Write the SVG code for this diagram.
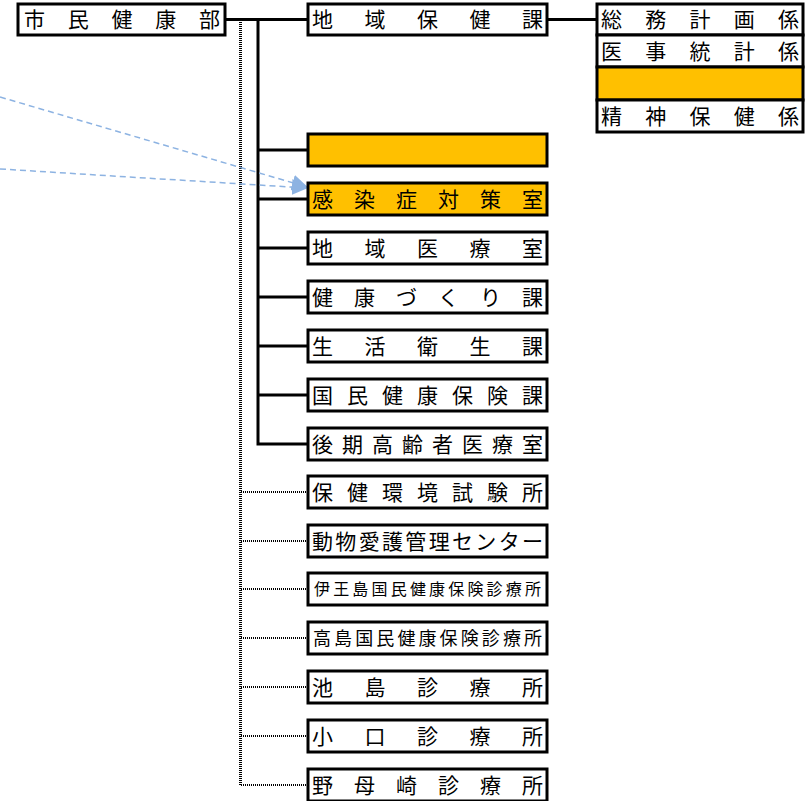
<svg xmlns="http://www.w3.org/2000/svg" width="812" height="801" viewBox="0 0 812 801">
<style>
.b{fill:#fff;stroke:#000;stroke-width:3}
.o{fill:#FFC000;stroke:#000;stroke-width:3}
.t{font-family:"Noto Sans CJK JP","Noto Sans CJK SC",sans-serif;font-size:21px;fill:#000}
.s{font-size:16px}
.m{font-size:18px}
.solid{stroke:#000;stroke-width:3;fill:none}
.dv{stroke:#000;stroke-width:3;stroke-dasharray:1 1;fill:none;shape-rendering:crispEdges}
.dh{stroke:#000;stroke-width:2;stroke-dasharray:1 1;fill:none;shape-rendering:crispEdges}
.ar{stroke:#8DB3E2;stroke-width:1.5;stroke-dasharray:6 4;fill:none}
</style>
<defs>
<marker id="ah" markerUnits="userSpaceOnUse" markerWidth="16" markerHeight="16" viewBox="0 0 16 16" refX="15" refY="8" orient="auto">
<path d="M0,0 L16,8 L0,16 Z" fill="#8DB3E2"/>
</marker>
</defs>
<g id="connectors">
<path class="solid" d="M225,19.5 H308"/>
<path class="solid" d="M547,19.5 H597"/>
<path class="solid" d="M258,19.5 V444 H308"/>
<path class="solid" d="M258,150 H308 M258,199 H308 M258,248 H308 M258,297 H308 M258,346 H308 M258,395 H308"/>
<path class="dv" d="M240.5,22 V786"/>
<path class="dh" d="M241,492 H308 M241,541 H308 M241,589 H308 M241,638 H308 M241,687 H308 M241,736 H308 M241,785 H308"/>
<path class="ar" d="M0,97 L307,187" marker-end="url(#ah)"/>
<path class="ar" d="M0,169 L307,188" marker-end="url(#ah)"/>
</g>
<g id="n0"><rect class="b" x="18" y="4" width="207" height="31"/><text class="t" x="24" y="27" textLength="196" lengthAdjust="spacing">市民健康部</text></g>
<g id="n1"><rect class="b" x="308" y="4" width="239" height="31"/><text class="t" x="312" y="27" textLength="231" lengthAdjust="spacing">地域保健課</text></g>
<g id="r1"><rect class="b" x="597" y="4" width="206" height="31"/><text class="t" x="601" y="27" textLength="198" lengthAdjust="spacing">総務計画係</text></g>
<g id="r2"><rect class="b" x="597" y="35" width="206" height="32"/><text class="t" x="601" y="59" textLength="198" lengthAdjust="spacing">医事統計係</text></g>
<g id="r3"><rect class="o" x="597" y="67" width="206" height="33"/></g>
<g id="r4"><rect class="b" x="597" y="100" width="206" height="32"/><text class="t" x="601" y="124" textLength="198" lengthAdjust="spacing">精神保健係</text></g>
<g id="n2"><rect class="o" x="308" y="134" width="239" height="32"/></g>
<g id="n3"><rect class="o" x="308" y="183" width="239" height="32"/><text class="t" x="312" y="207" textLength="231" lengthAdjust="spacing">感染症対策室</text></g>
<g id="n4"><rect class="b" x="308" y="232" width="239" height="32"/><text class="t" x="312" y="256" textLength="231" lengthAdjust="spacing">地域医療室</text></g>
<g id="n5"><rect class="b" x="308" y="281" width="239" height="32"/><text class="t" x="312" y="305" textLength="231" lengthAdjust="spacing">健康づくり課</text></g>
<g id="n6"><rect class="b" x="308" y="330" width="239" height="32"/><text class="t" x="312" y="354" textLength="231" lengthAdjust="spacing">生活衛生課</text></g>
<g id="n7"><rect class="b" x="308" y="379" width="239" height="32"/><text class="t" x="312" y="403" textLength="231" lengthAdjust="spacing">国民健康保険課</text></g>
<g id="n8"><rect class="b" x="308" y="428" width="239" height="32"/><text class="t" x="312" y="452" textLength="231" lengthAdjust="spacing">後期高齢者医療室</text></g>
<g id="n9"><rect class="b" x="308" y="476" width="239" height="32"/><text class="t" x="312" y="500" textLength="231" lengthAdjust="spacing">保健環境試験所</text></g>
<g id="n10"><rect class="b" x="308" y="525" width="239" height="32"/><text class="t" x="312" y="549" textLength="231" lengthAdjust="spacing">動物愛護管理センター</text></g>
<g id="n11"><rect class="b" x="308" y="573" width="239" height="32"/><text class="t s" x="314" y="595" textLength="227" lengthAdjust="spacing">伊王島国民健康保険診療所</text></g>
<g id="n12"><rect class="b" x="308" y="622" width="239" height="32"/><text class="t m" x="313" y="645" textLength="229" lengthAdjust="spacing">高島国民健康保険診療所</text></g>
<g id="n13"><rect class="b" x="308" y="671" width="239" height="32"/><text class="t" x="312" y="695" textLength="231" lengthAdjust="spacing">池島診療所</text></g>
<g id="n14"><rect class="b" x="308" y="720" width="239" height="32"/><text class="t" x="312" y="744" textLength="231" lengthAdjust="spacing">小口診療所</text></g>
<g id="n15"><rect class="b" x="308" y="769" width="239" height="32"/><text class="t" x="312" y="793" textLength="231" lengthAdjust="spacing">野母崎診療所</text></g>
</svg>
